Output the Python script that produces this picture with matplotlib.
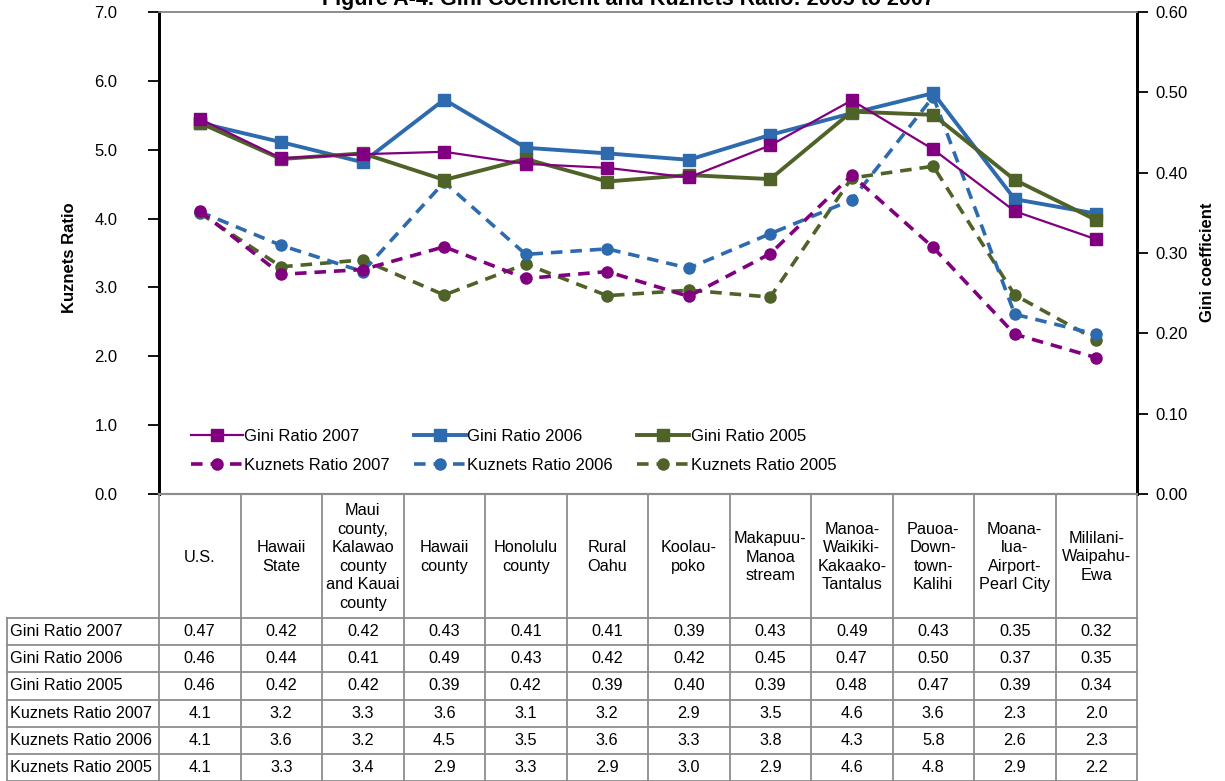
import numpy as np
import matplotlib
matplotlib.use("Agg")
import matplotlib.pyplot as plt
from matplotlib.lines import Line2D
import matplotlib.transforms as mtransforms

plt.rcParams['font.family'] = ['Liberation Sans', 'DejaVu Sans']

# ---------------- data ----------------
categories = ["U.S.", "Hawaii\nState", "Maui\ncounty,\nKalawao\ncounty\nand Kauai\ncounty",
              "Hawaii\ncounty", "Honolulu\ncounty", "Rural\nOahu", "Koolau-\npoko",
              "Makapuu-\nManoa\nstream", "Manoa-\nWaikiki-\nKakaako-\nTantalus",
              "Pauoa-\nDown-\ntown-\nKalihi", "Moana-\nlua-\nAirport-\nPearl City",
              "Mililani-\nWaipahu-\nEwa"]

gini_2007 = [0.467, 0.418, 0.423, 0.426, 0.411, 0.406, 0.394, 0.434, 0.490, 0.429, 0.352, 0.317]
gini_2006 = [0.462, 0.438, 0.413, 0.491, 0.431, 0.424, 0.416, 0.447, 0.474, 0.499, 0.367, 0.349]
gini_2005 = [0.462, 0.417, 0.424, 0.391, 0.417, 0.389, 0.397, 0.392, 0.476, 0.472, 0.391, 0.341]
kuz_2007 = [4.11, 3.19, 3.26, 3.59, 3.13, 3.23, 2.87, 3.49, 4.63, 3.58, 2.32, 1.98]
kuz_2006 = [4.10, 3.61, 3.23, 4.53, 3.48, 3.56, 3.28, 3.78, 4.27, 5.77, 2.61, 2.32]
kuz_2005 = [4.08, 3.30, 3.40, 2.89, 3.34, 2.88, 2.96, 2.86, 4.59, 4.76, 2.89, 2.24]

row_labels = ["Gini Ratio 2007", "Gini Ratio 2006", "Gini Ratio 2005",
              "Kuznets Ratio 2007", "Kuznets Ratio 2006", "Kuznets Ratio 2005"]

left_ticks = [0, 1, 2, 3, 4, 5, 6, 7]
right_ticks = [0.0, 0.1, 0.2, 0.3, 0.4, 0.5, 0.6]

title = "Figure A-4. Gini Coefficient and Kuznets Ratio: 2005 to 2007"

c_2007 = '#800080'
c_2006 = '#2E6AAE'
c_2005 = '#4F6228'

# ---------------- figure geometry (pixels) ----------------
W, H = 1225, 781
fig = plt.figure(figsize=(W / 100, H / 100), dpi=100)
ax_l, ax_r, ax_t, ax_b = 159, 1137, 12, 494
ax = fig.add_axes([ax_l / W, 1 - ax_b / H, (ax_r - ax_l) / W, (ax_b - ax_t) / H])
ax2 = ax.twinx()

n = len(categories)
x = np.arange(n)
ax.set_xlim(-0.5, n - 0.5)
ax.set_ylim(0, 7)
ax2.set_ylim(0, 0.6)

fs_tab = 11.7
fs_tick = 12
fs_leg = 12

dash = (0, (3.2, 2.2))

# Kuznets (left axis), dashed with circles
ax.plot(x, kuz_2005, color=c_2005, ls=dash, lw=2.6, marker='o', ms=8)
ax.plot(x, kuz_2006, color=c_2006, ls=dash, lw=2.6, marker='o', ms=8)
ax.plot(x, kuz_2007, color=c_2007, ls=dash, lw=2.6, marker='o', ms=8)

# Gini (right axis), solid with squares
ax2.plot(x, gini_2007, color=c_2007, lw=1.6, marker='s', ms=8, zorder=3)
ax2.plot(x, gini_2006, color=c_2006, lw=2.8, marker='s', ms=8, zorder=2)
ax2.plot(x, gini_2005, color=c_2005, lw=2.8, marker='s', ms=8, zorder=2.5)

# axes styling
ax.set_yticks(left_ticks)
ax.set_yticklabels([f"{v:.1f}" for v in left_ticks], fontsize=fs_tick)
ax2.set_yticks(right_ticks)
ax2.set_yticklabels([f"{v:.2f}" for v in right_ticks], fontsize=fs_tick)
ax.set_xticks([])
ax.tick_params(axis='y', direction='out', length=8, width=1.3, pad=22, color='black')
ax2.tick_params(axis='y', direction='out', length=8, width=1.3, pad=5.5, color='black')
for a in (ax, ax2):
    a.spines['top'].set_color('#8c8c8c')
    a.spines['top'].set_linewidth(1.2)
    a.spines['bottom'].set_color('#8c8c8c')
    a.spines['bottom'].set_linewidth(1.5)
    a.spines['left'].set_color('black')
    a.spines['left'].set_linewidth(2)
    a.spines['right'].set_color('black')
    a.spines['right'].set_linewidth(2)

# axis titles
fig.text(69 / W, 1 - 258 / H, "Kuznets Ratio", rotation=90, ha='center', va='center',
         fontsize=fs_leg, fontweight='bold')
fig.text(1207 / W, 1 - 262 / H, "Gini coefficient", rotation=90, ha='center', va='center',
         fontsize=fs_leg, fontweight='bold')
fig.text(628 / W, 1 - 5 / H, title, ha='center', va='baseline', fontsize=15.5,
         fontweight='bold')

# legend
handles = [
    Line2D([], [], color=c_2007, lw=1.6, marker='s', ms=8),
    Line2D([], [], color=c_2007, ls=dash, lw=2.6, marker='o', ms=8),
    Line2D([], [], color=c_2006, lw=2.8, marker='s', ms=8),
    Line2D([], [], color=c_2006, ls=dash, lw=2.6, marker='o', ms=8),
    Line2D([], [], color=c_2005, lw=2.8, marker='s', ms=8),
    Line2D([], [], color=c_2005, ls=dash, lw=2.6, marker='o', ms=8),
]
labels = ["Gini Ratio 2007", "Kuznets Ratio 2007", "Gini Ratio 2006",
          "Kuznets Ratio 2006", "Gini Ratio 2005", "Kuznets Ratio 2005"]
leg = ax2.legend(handles, labels, ncol=3, frameon=False, fontsize=fs_leg,
                 loc='upper left', bbox_to_anchor=((176 - ax_l) / (ax_r - ax_l), (494 - 414) / (494 - 12)),
                 handlelength=3.1, handletextpad=0.1, columnspacing=1.45, labelspacing=0.85)

# ---------------- data table ----------------
blend = mtransforms.blended_transform_factory(ax.transData, fig.transFigure)
def fy(py):
    return 1 - py / H
grid_c = '#8c8c8c'
header_top, header_bot = 494, 618
row_h = (781 - header_bot) / len(row_labels)
label_left = -0.5 - (ax_l - 7) / ((ax_r - ax_l) / n)

table_rows = [
    [f"{v:.2f}" for v in gini_2007],
    [f"{v:.2f}" for v in gini_2006],
    [f"{v:.2f}" for v in gini_2005],
    [f"{v:.1f}" for v in kuz_2007],
    [f"{v:.1f}" for v in kuz_2006],
    [f"{v:.1f}" for v in kuz_2005],
]

def line(xs, ys, lw=1.3):
    fig.add_artist(Line2D(xs, ys, transform=blend, color=grid_c, lw=lw, clip_on=False))

# verticals for category columns
for k in range(n + 1):
    line([k - 0.5, k - 0.5], [fy(header_top), fy(781)])
# left border of row-label column
line([label_left, label_left], [fy(header_bot), fy(781)])
# horizontal lines
line([-0.5, n - 0.5], [fy(header_top), fy(header_top)])
for r in range(len(row_labels) + 1):
    yy = header_bot + r * row_h
    if r == len(row_labels):
        yy = 780.5
    line([label_left, n - 0.5], [fy(yy), fy(yy)])

# header texts
for i, cat in enumerate(categories):
    fig.text(i, fy((header_top + header_bot) / 2 + 1), cat, transform=blend, ha='center', va='center',
             multialignment='center', fontsize=fs_tab, linespacing=1.3)
# rows
for r, (lab, vals) in enumerate(zip(row_labels, table_rows)):
    yc = fy(header_bot + (r + 0.5) * row_h)
    fig.text(label_left + 0.04, yc, lab, transform=blend, ha='left', va='center', fontsize=fs_tab)
    for i, v in enumerate(vals):
        fig.text(i, yc, v, transform=blend, ha='center', va='center', fontsize=fs_tab)

fig.savefig("out.png", dpi=100)
